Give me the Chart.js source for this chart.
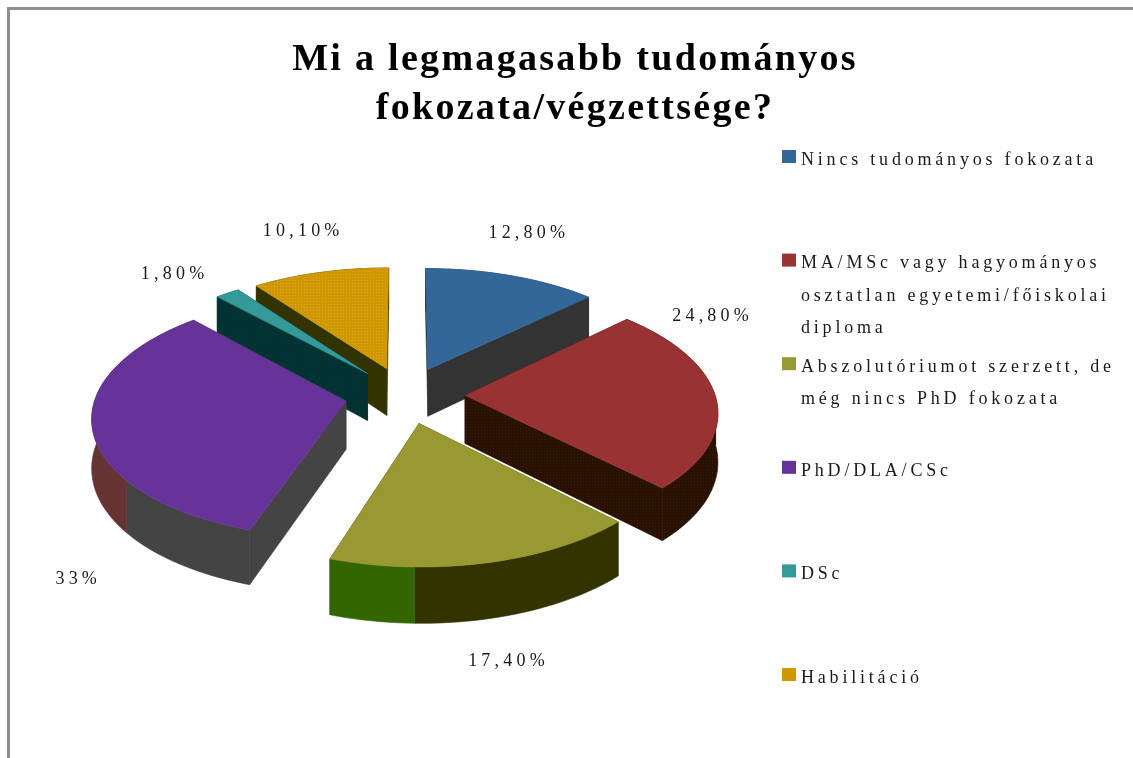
<!DOCTYPE html>
<html>
<head>
<meta charset="utf-8">
<title>Mi a legmagasabb tudományos fokozata/végzettsége?</title>
<script src="https://cdn.jsdelivr.net/npm/chart.js@4/dist/chart.umd.min.js"></script>
<style>
    html, body { margin: 0; padding: 0; background: #fff; overflow: hidden; }
    #wrap { position: relative; width: 1133px; height: 758px; }
    #frame { position: absolute; left: 7px; top: 7px; right: 0; bottom: 0;
             border-left: 3px solid #8e8e8e; border-top: 3px solid #8e8e8e; }
    #myChart { position: absolute; left: 0; top: 0; filter: blur(0.5px); }
</style>
</head>
<body>
<div id="wrap">
    <div id="frame"></div>
    <canvas id="myChart" width="1133" height="758"></canvas>
</div>
<script>
'use strict';

const titleLines = ['Mi a legmagasabb tudományos', 'fokozata/végzettsége?'];
const categories = [
    'Nincs tudományos fokozata',
    'MA/MSc vagy hagyományos\nosztatlan egyetemi/főiskolai\ndiploma',
    'Abszolutóriumot szerzett, de\nmég nincs PhD fokozata',
    'PhD/DLA/CSc',
    'DSc',
    'Habilitáció'
];
const shares = [12.8, 24.8, 17.4, 33, 1.8, 10.1];
const shareLabels = ['12,80%', '24,80%', '17,40%', '33%', '1,80%', '10,10%'];

const sliceColors = ['#336699', '#993333', '#999933', '#663399', '#339999', '#cc9900'];
const sliceDots = [null, null, null, null, null, '#f09a30'];
const wallColors = ['#333333', '#2b0f00', '#333300', '#444444', '#003333', '#333300'];
const wallDots = [null, '#1f2a00', null, null, '#1f2a2a', null];
const rimBackColors = ['#333333', '#2b0f00', '#336600', '#663333', '#003333', '#333300'];
const rimBreakDegrees = [360, 360, 180, 232, 360, 360];

// where each percentage sits, measured from the middle of its slice's rim
const labelNudge = [[17, -43], [-3, -81], [21, 99], [-14, 152], [-53, -19], [-17, -41]];

// camera for the tilted pie
const pieShiftX = -170;
const pieShiftY = -19;
const tilt = 0.475;
const perspective = 0.12;
const wallDepth = 48;

function project(arc, u, v, z) {
    const s = 1 / (1 - perspective * v);
    const R = arc.outerRadius;
    return {
        x: arc.x + pieShiftX + u * s * R,
        y: arc.y + pieShiftY + v * s * R * tilt + z * wallDepth * s
    };
}

// the screened look of the old picture: one dot in every 3x3 cell
function dithered(ctx, base, dot) {
    if (!dot) return base;
    const cell = document.createElement('canvas');
    cell.width = 3;
    cell.height = 3;
    const c = cell.getContext('2d');
    c.fillStyle = base;
    c.fillRect(0, 0, 3, 3);
    c.fillStyle = dot;
    c.fillRect(1, 1, 1, 1);
    return ctx.createPattern(cell, 'repeat');
}

function polygon(ctx, points, color) {
    ctx.beginPath();
    points.forEach((p, i) => i ? ctx.lineTo(p.x, p.y) : ctx.moveTo(p.x, p.y));
    ctx.closePath();
    ctx.fillStyle = color;
    ctx.strokeStyle = color;
    ctx.lineWidth = 0.6;
    ctx.fill();
    ctx.stroke();
}

function signedArea(points) {
    let sum = 0;
    points.forEach((p, i) => {
        const q = points[(i + 1) % points.length];
        sum += p.x * q.y - q.x * p.y;
    });
    return sum;
}

// explosion of the slice, as a fraction of the radius
function sliceApex(arc) {
    const mid = (arc.startAngle + arc.endAngle) / 2;
    const e = arc.options.offset / arc.outerRadius;
    return { u: e * Math.cos(mid), v: e * Math.sin(mid), mid };
}

function drawSlice(ctx, arc, index) {
    const apex = sliceApex(arc);
    const steps = Math.max(2, Math.ceil((arc.endAngle - arc.startAngle) / 0.03));
    const rim = [];
    for (let i = 0; i <= steps; i++) {
        const a = arc.startAngle + (arc.endAngle - arc.startAngle) * i / steps;
        rim.push({ u: apex.u + Math.cos(a), v: apex.v + Math.sin(a), a });
    }
    const first = rim[0];
    const last = rim[rim.length - 1];
    const wall = dithered(ctx, wallColors[index], wallDots[index]);

    const band = (run) => run.map(p => project(arc, p.u, p.v, 0))
        .concat(run.slice().reverse().map(p => project(arc, p.u, p.v, 1)));

    const faces = [
        { pts: band([apex, first]), color: wall },
        { pts: band([last, apex]), color: wall }
    ];

    // the rim as one band per colour, so no seams between the little steps
    const isBack = (p) => {
        const deg = ((p.a + Math.PI / 2) * 180 / Math.PI + 360) % 360;
        return deg >= rimBreakDegrees[index];
    };
    let run = [rim[0]];
    for (let i = 1; i <= steps; i++) {
        run.push(rim[i]);
        if (i === steps || isBack(rim[i]) !== isBack(rim[i - 1])
            || (rim[i].v > 0) !== (rim[i - 1].v > 0)) {
            faces.push({
                pts: band(run),
                color: isBack(rim[i - 1]) ? rimBackColors[index] : wall,
                front: rim[i - 1].v > 0
            });
            run = [rim[i]];
        }
    }

    // faces turned away first, the visible ones over them
    const isFront = f => f.front !== undefined ? f.front : signedArea(f.pts) < 0;
    faces.filter(f => !isFront(f)).forEach(f => polygon(ctx, f.pts, f.color));
    faces.filter(isFront).forEach(f => polygon(ctx, f.pts, f.color));

    const top = [project(arc, apex.u, apex.v, 0)].concat(rim.map(p => project(arc, p.u, p.v, 0)));
    polygon(ctx, top, dithered(ctx, arc.options.backgroundColor, sliceDots[index]));
}

const pie3d = {
    id: 'pie3d',
    beforeDraw(chart) {
        chart.ctx.letterSpacing = '2.3px';
    },
    beforeDatasetsDraw(chart) {
        const ctx = chart.ctx;
        const arcs = chart.getDatasetMeta(0).data;
        const order = arcs.map((arc, i) => i)
            .sort((a, b) => sliceApex(arcs[a]).v - sliceApex(arcs[b]).v);
        ctx.save();
        order.forEach(i => drawSlice(ctx, arcs[i], i));
        ctx.restore();

        // percentages
        ctx.save();
        ctx.letterSpacing = '4.2px';
        ctx.font = '18px "Liberation Serif"';
        ctx.fillStyle = '#1a1a1a';
        ctx.textAlign = 'center';
        ctx.textBaseline = 'middle';
        arcs.forEach((arc, i) => {
            const apex = sliceApex(arc);
            const p = project(arc, apex.u + Math.cos(apex.mid), apex.v + Math.sin(apex.mid), 0);
            ctx.fillText(shareLabels[i], p.x + labelNudge[i][0], p.y + labelNudge[i][1]);
        });
        ctx.restore();
        return false;
    },
    afterDraw(chart) {
        const ctx = chart.ctx;
        ctx.save();
        ctx.letterSpacing = '3.8px';
        ctx.font = '18px "Liberation Serif"';
        ctx.textBaseline = 'middle';
        categories.forEach((name, i) => {
            const y = 160 + 103.6 * i;
            ctx.fillStyle = sliceColors[i];
            ctx.fillRect(782, y - 10, 14, 13);
            ctx.fillStyle = '#1a1a1a';
            name.split('\n').forEach((line, n) => ctx.fillText(line, 801, y + n * 32.5));
        });
        ctx.restore();
    }
};

const ctx = document.getElementById('myChart').getContext('2d');
const chart = new Chart(ctx, {
    type: 'pie',
    data: {
        labels: categories,
        datasets: [{
            data: shares,
            backgroundColor: sliceColors,
            borderWidth: 0,
            offset: 60
        }]
    },
    options: {
        responsive: false,
        animation: false,
        layout: { padding: { left: 17, bottom: 64 } },
        plugins: {
            legend: { display: false },
            tooltip: { enabled: false },
            title: {
                display: true,
                text: titleLines,
                color: '#000',
                font: { family: '"Liberation Serif"', size: 38, weight: 'bold', lineHeight: 1.29 },
                padding: { top: 36, bottom: 0 }
            }
        }
    },
    plugins: [pie3d]
});
</script>
</body>
</html>
